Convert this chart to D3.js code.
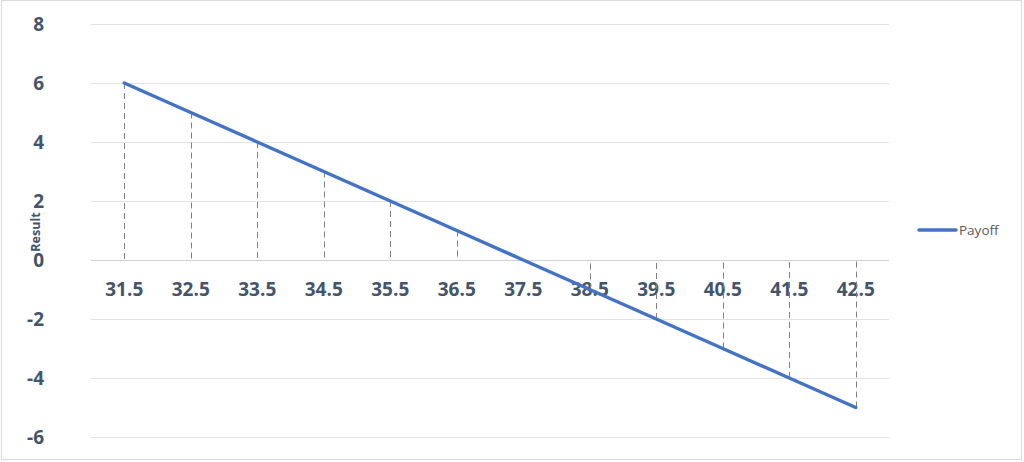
<!DOCTYPE html>
<html><head><meta charset="utf-8">
<script src="https://cdn.jsdelivr.net/npm/d3@7"></script>
<style>body{margin:0;background:#fff;}svg{display:block;}</style>
</head><body>
<svg id="c" width="1024" height="462"></svg>
<script>
const categories = ["31.5","32.5","33.5","34.5","35.5","36.5","37.5","38.5","39.5","40.5","41.5","42.5"];
const payoff = [6,5,4,3,2,1,0,-1,-2,-3,-4,-5];
const yTicks = [8,6,4,2,0,-2,-4,-6];
const seriesName = "Payoff";
const yTitle = "Result";

(function(){
const svg = d3.select("#c");
svg.append("rect").attr("x",1.5).attr("y",0.5).attr("width",1020).attr("height",459)
  .attr("fill","#fff").attr("stroke","#d9d9d9");

const pL = 91, pR = 889, pT = 24, pB = 437;
const x = d3.scaleBand().domain(categories).range([pL,pR]);
const y = d3.scaleLinear().domain([-6,8]).range([pB,pT]);
const cx = d => x(d) + x.bandwidth()/2;

svg.append("g").selectAll("line").data(yTicks).join("line")
  .attr("x1",pL).attr("x2",pR).attr("y1",d=>Math.round(y(d))+0.5).attr("y2",d=>Math.round(y(d))+0.5)
  .attr("stroke",d=>d===0?"#d0d0d0":"#e3e3e3").attr("stroke-width",1);

svg.append("g").selectAll("text").data(yTicks).join("text")
  .attr("x",44).attr("y",d=>y(d)).attr("dy","0.36em").attr("text-anchor","end")
  .attr("font-family","Open Sans, sans-serif").attr("font-weight","bold").attr("font-size",19)
  .attr("fill","#44546a").text(d=>d);

svg.append("g").selectAll("text").data(categories).join("text")
  .attr("x",d=>cx(d)).attr("y",y(0)+29).attr("dy","0.36em").attr("text-anchor","middle")
  .attr("font-family","Open Sans, sans-serif").attr("font-weight","bold").attr("font-size",19)
  .attr("fill","#44546a").text(d=>d);

svg.append("g").selectAll("line").data(categories.map((c,i)=>({c,v:payoff[i]})).filter(d=>d.v!==0)).join("line")
  .attr("x1",d=>Math.round(cx(d.c))+0.5).attr("x2",d=>Math.round(cx(d.c))+0.5).attr("y1",d=>y(d.v)).attr("y2",y(0))
  .attr("stroke","#7f7f7f").attr("stroke-width",1).attr("stroke-dasharray","6,4");

const line = d3.line().x((d,i)=>cx(categories[i])).y(d=>y(d));
svg.append("path").datum(payoff).attr("d",line).attr("fill","none")
  .attr("stroke","#4472c4").attr("stroke-width",3.5).attr("stroke-linecap","round");

svg.append("text").attr("transform",`translate(40,232) rotate(-90)`).attr("text-anchor","middle")
  .attr("font-family","Open Sans, sans-serif").attr("font-weight","bold").attr("font-size",12.5)
  .attr("fill","#44546a").text(yTitle);

svg.append("line").attr("x1",919).attr("x2",956).attr("y1",230).attr("y2",230)
  .attr("stroke","#4472c4").attr("stroke-width",3.5).attr("stroke-linecap","round");
svg.append("text").attr("x",959).attr("y",230).attr("dy","0.36em")
  .attr("font-family","Open Sans, sans-serif").attr("font-size",13.5).attr("fill","#595959").text(seriesName);
})();
</script>
</body></html>
